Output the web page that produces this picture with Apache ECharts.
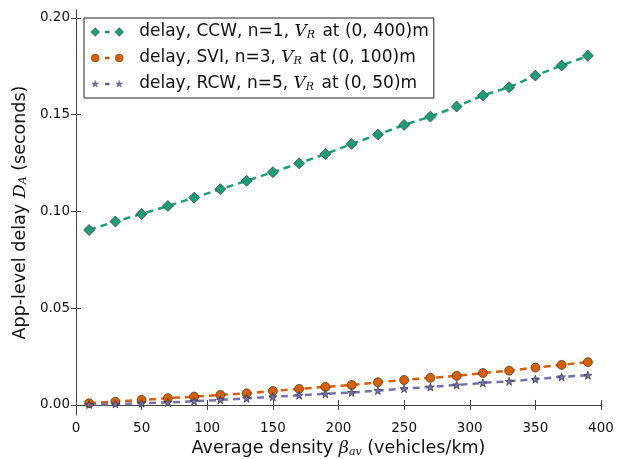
<!DOCTYPE html>
<html>
<head>
<meta charset="utf-8">
<script src="https://cdn.jsdelivr.net/npm/echarts@6/dist/echarts.min.js"></script>
<style>
  html, body { margin: 0; padding: 0; background: #fff; }
  #chart { width: 637px; height: 459px; }
</style>
</head>
<body>
<div id="chart"></div>
<script>
// x positions (vehicles/km)
const densities = [10, 30, 50, 70, 90, 110, 130, 150, 170, 190, 210, 230, 250, 270, 290, 310, 330, 350, 370, 390];

// delay values (seconds)
const delayCCW = [0.0904, 0.0948, 0.0987, 0.1028, 0.1071, 0.1115, 0.1158, 0.1203, 0.1249, 0.1297,
                  0.1349, 0.1397, 0.1447, 0.1490, 0.1542, 0.1599, 0.1642, 0.1702, 0.1754, 0.1804];
const delaySVI = [0.0009, 0.0017, 0.0026, 0.0035, 0.0043, 0.0052, 0.0060, 0.0072, 0.0083, 0.0093,
                  0.0103, 0.0117, 0.0129, 0.0140, 0.0150, 0.0165, 0.0177, 0.0193, 0.0207, 0.0221];
const delayRCW = [0.0002, 0.0005, 0.0009, 0.0013, 0.0019, 0.0026, 0.0034, 0.0042, 0.0050, 0.0057,
                  0.0064, 0.0074, 0.0084, 0.0093, 0.0103, 0.0114, 0.0122, 0.0133, 0.0145, 0.0153];

const yTicks = [0, 0.05, 0.10, 0.15, 0.20];
const seriesNames = ['CCW', 'SVI', 'RCW'];
const legendLabels = {
  CCW: 'delay, CCW, n=1, {v|V}{s|R} at (0, 400)m',
  SVI: 'delay, SVI, n=3, {v|V}{s|R} at (0, 100)m',
  RCW: 'delay, RCW, n=5, {v|V}{s|R} at (0, 50)m'
};
const colors = { CCW: '#1b9e77', SVI: '#d95f02', RCW: '#7570b3' };

const FONT = 'DejaVu Sans';
const MATH = 'DejaVu Serif';

const STAR = 'M5,0L6.18,3.38L9.76,3.45L6.9,5.62L7.94,9.05L5,7L2.06,9.05L3.1,5.62L0.24,3.45L3.82,3.38Z';
// legend glyphs: marker, short dash, marker (corner dots fix the box so shapes keep their size)
const BOX = 'M0,0L0.01,0L0,0.01ZM34,10L33.99,10L34,9.99Z';
const DASH = 'M15,4L19,4L19,6L15,6Z';
const icons = {
  CCW: 'path://M0.5,5L5,0.5L9.5,5L5,9.5Z' + DASH + 'M24.5,5L29,0.5L33.5,5L29,9.5Z' + BOX,
  SVI: 'path://M1,5A4,4 0 1,1 9,5A4,4 0 1,1 1,5Z' + DASH + 'M25,5A4,4 0 1,1 33,5A4,4 0 1,1 25,5Z' + BOX,
  RCW: 'path://M5,1.5L5.8,3.9L8.3,4L6.3,5.5L7.1,7.9L5,6.4L2.9,7.9L3.7,5.5L1.7,4L4.2,3.9Z' + DASH +
       'M29,1.5L29.8,3.9L32.3,4L30.3,5.5L31.1,7.9L29,6.4L26.9,7.9L27.7,5.5L25.7,4L28.2,3.9Z' + BOX
};

const pairs = arr => densities.map((x, i) => [x, arr[i]]);

const chart = echarts.init(document.getElementById('chart'));

const lineSeries = (name, data, symbol, size) => ({
  name: name,
  type: 'line',
  data: pairs(data),
  symbol: symbol,
  symbolSize: size,
  showAllSymbol: true,
  lineStyle: { color: colors[name], width: 2.5, type: [7, 5] },
  itemStyle: { color: colors[name], borderColor: '#333', borderWidth: 0.7 },
  emphasis: { disabled: true },
  animation: false
});

const option = {
  backgroundColor: '#fff',
  grid: { left: 76, right: 36, top: 10, bottom: 44, outerBoundsMode: 'none' },
  legend: {
    orient: 'vertical',
    left: 84,
    top: 18,
    data: seriesNames.map(n => ({
      name: n,
      icon: icons[n],
      itemStyle: { color: colors[n], borderColor: '#333', borderWidth: 0.4 }
    })),
    itemWidth: 34,
    itemHeight: 10,
    itemGap: 8,
    padding: [5, 5, 5, 6],
    borderColor: '#222',
    borderWidth: 1,
    formatter: n => legendLabels[n],
    textStyle: {
      fontFamily: FONT,
      fontSize: 17,
      lineHeight: 18,
      color: '#111',
      padding: [0, 0, 0, 10],
      rich: {
        v: { fontFamily: MATH, fontStyle: 'italic', fontSize: 17, color: '#111' },
        s: { fontFamily: MATH, fontStyle: 'italic', fontSize: 11, color: '#111', verticalAlign: 'bottom', padding: [0, 2, 0, 0] }
      }
    },
    selectedMode: false
  },
  xAxis: [
    {
      type: 'value',
      min: 0,
      max: 400,
      interval: 50,
      name: 'Average density {b|β}{s|av} (vehicles/km)',
      nameLocation: 'middle',
      nameGap: 23,
      nameTextStyle: {
        fontFamily: FONT,
        fontSize: 17.5,
        color: '#111',
        rich: {
          b: { fontFamily: MATH, fontStyle: 'italic', fontSize: 17.5, color: '#111' },
          s: { fontFamily: MATH, fontStyle: 'italic', fontSize: 11, color: '#111', verticalAlign: 'bottom' }
        }
      },
      axisLine: { lineStyle: { color: '#444', width: 1 } },
      axisTick: { inside: true, length: 5, lineStyle: { color: '#444' } },
      axisLabel: { fontFamily: FONT, fontSize: 13.5, color: '#111', margin: 6 },
      splitLine: { show: false }
    },
    {
      type: 'value',
      position: 'top',
      min: 0,
      max: 400,
      interval: 50,
      axisLine: { show: true, lineStyle: { color: '#444', width: 1 } },
      axisTick: { inside: true, length: 5, lineStyle: { color: '#444' } },
      axisLabel: { show: false },
      splitLine: { show: false }
    }
  ],
  yAxis: [
    {
      type: 'value',
      min: -0.0052,
      max: 0.2041,
      name: 'App-level delay {d|D}{s|A} (seconds)',
      nameLocation: 'middle',
      nameGap: 41,
      nameTextStyle: {
        fontFamily: FONT,
        fontSize: 17.5,
        color: '#111',
        rich: {
          d: { fontFamily: MATH, fontStyle: 'italic', fontSize: 17.5, color: '#111' },
          s: { fontFamily: MATH, fontStyle: 'italic', fontSize: 11, color: '#111', verticalAlign: 'bottom' }
        }
      },
      axisLine: { show: true, lineStyle: { color: '#444', width: 1 } },
      axisTick: { inside: true, length: 5, customValues: yTicks, lineStyle: { color: '#444' } },
      axisLabel: {
        fontFamily: FONT,
        fontSize: 13.5,
        color: '#111',
        margin: 6,
        customValues: yTicks,
        formatter: v => v.toFixed(2)
      },
      splitLine: { show: false }
    },
    {
      type: 'value',
      position: 'right',
      min: -0.0052,
      max: 0.2041,
      axisLine: { show: true, lineStyle: { color: '#444', width: 1 } },
      axisTick: { inside: true, length: 5, customValues: yTicks, lineStyle: { color: '#444' } },
      axisLabel: { show: false, customValues: yTicks },
      splitLine: { show: false }
    }
  ],
  series: [
    lineSeries('CCW', delayCCW, 'diamond', 11),
    lineSeries('SVI', delaySVI, 'circle', 9),
    lineSeries('RCW', delayRCW, 'path://' + STAR, 8)
  ]
};

chart.setOption(option);
window.addEventListener('resize', () => chart.resize());
</script>
</body>
</html>
